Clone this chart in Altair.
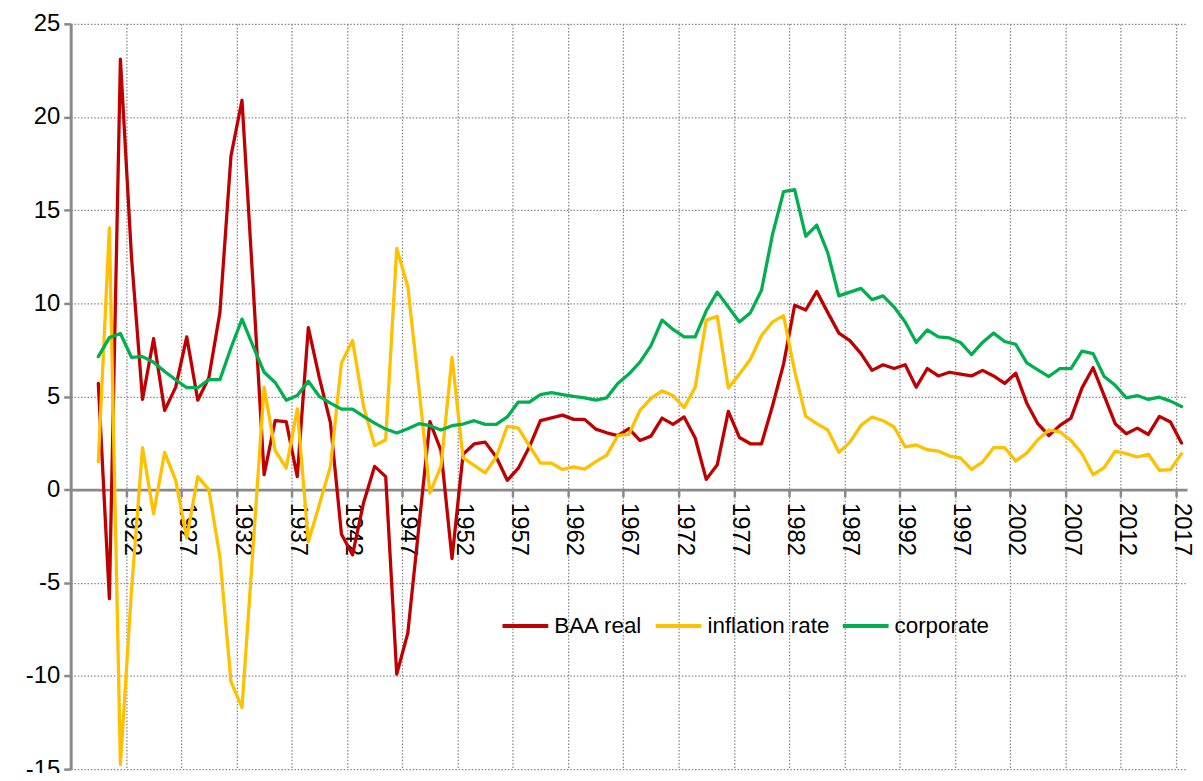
import altair as alt
import pandas as pd

years = list(range(1919, 2018))

baa_real = [5.7, -5.85, 23.1, 12.5, 4.85, 8.1, 4.25, 5.5, 8.2, 4.8,
            6.0, 9.5, 17.9, 20.9, 11.0, 0.8, 3.7, 3.65, 0.7, 8.7,
            6.0, 3.6, -2.4, -3.5, -0.7, 1.25, 0.7, -9.9, -7.7, -2.0,
            3.65, 2.1, -3.7, 1.9, 2.45, 2.55, 1.75, 0.5, 1.15, 2.3,
            3.7, 3.85, 4.0, 3.77, 3.77, 3.25, 3.05, 2.9, 3.27, 2.64,
            2.87, 3.84, 3.5, 3.9, 2.77, 0.55, 1.34, 4.2, 2.8, 2.46,
            2.46, 4.5, 6.75, 9.9, 9.64, 10.64, 9.5, 8.4, 8.0, 7.3,
            6.4, 6.7, 6.5, 6.7, 5.5, 6.5, 6.1, 6.3, 6.2, 6.1,
            6.4, 6.1, 5.7, 6.25, 4.64, 3.54, 2.9, 3.45, 3.84, 5.46,
            6.54, 5.05, 3.54, 3.0, 3.3, 2.96, 3.93, 3.63, 2.5]

inflation_rate = [1.5, 14.05, -14.75, -5.4, 2.25, -1.3, 2.0, 0.5, -2.6, 0.7,
                  0.0, -3.6, -10.3, -11.7, -3.1, 5.5, 2.1, 1.16, 4.33, -2.8,
                  -0.8, 1.25, 6.8, 8.0, 4.46, 2.36, 2.68, 12.95, 10.9, 5.5,
                  -0.18, 1.25, 7.1, 1.7, 1.3, 0.9, 1.75, 3.4, 3.3, 2.35,
                  1.42, 1.42, 1.08, 1.22, 1.1, 1.5, 1.85, 2.9, 2.96, 4.25,
                  4.9, 5.3, 5.05, 4.4, 5.5, 9.1, 9.3, 5.45, 6.2, 7.0,
                  8.27, 9.0, 9.34, 6.36, 3.93, 3.54, 3.2, 2.0, 2.55, 3.45,
                  3.9, 3.7, 3.36, 2.29, 2.4, 2.14, 2.07, 1.8, 1.7, 1.09,
                  1.48, 2.25, 2.25, 1.54, 1.96, 2.68, 3.2, 3.1, 2.64, 1.93,
                  0.8, 1.18, 2.07, 1.93, 1.75, 1.9, 1.04, 1.07, 1.93]

corporate = [7.14, 8.16, 8.38, 7.1, 7.14, 6.84, 6.34, 5.9, 5.47, 5.47,
             5.9, 5.9, 7.6, 9.15, 7.7, 6.3, 5.75, 4.8, 5.05, 5.82,
             5.0, 4.64, 4.32, 4.32, 3.93, 3.57, 3.25, 3.04, 3.27, 3.54,
             3.43, 3.2, 3.43, 3.52, 3.7, 3.5, 3.5, 3.9, 4.7, 4.7,
             5.1, 5.2, 5.1, 5.0, 4.93, 4.8, 4.93, 5.7, 6.2, 6.84,
             7.73, 9.1, 8.6, 8.2, 8.2, 9.6, 10.6, 9.8, 9.0, 9.5,
             10.7, 13.7, 16.0, 16.1, 13.6, 14.2, 12.7, 10.4, 10.6, 10.8,
             10.2, 10.4, 9.8, 9.0, 7.9, 8.57, 8.2, 8.14, 7.9, 7.25,
             7.9, 8.4, 7.95, 7.8, 6.8, 6.43, 6.07, 6.5, 6.5, 7.43,
             7.3, 6.07, 5.6, 4.93, 5.05, 4.84, 4.96, 4.75, 4.46]

series_names = ["BAA real", "inflation rate", "corporate"]
series_colors = ["#C00000", "#FFC000", "#00B050"]
x_tick_labels = [1922, 1927, 1932, 1937, 1942, 1947, 1952, 1957, 1962, 1967,
                 1972, 1977, 1982, 1987, 1992, 1997, 2002, 2007, 2012, 2017]
y_ticks = [-15, -10, -5, 0, 5, 10, 15, 20, 25]

rows = []
for name, vals in zip(series_names, [baa_real, inflation_rate, corporate]):
    assert len(vals) == len(years)
    for yr, v in zip(years, vals):
        rows.append({"year": yr, "value": v, "series": name})
df = pd.DataFrame(rows)

W, H = 1122, 749
YMIN, YMAX = -15, 25
XMIN, XMAX = 1916.5, 2017.5
half = W / (XMAX - XMIN) / 2
zero_offset = -(H - (YMAX - 0) / (YMAX - YMIN) * H)

FONT = "Liberation Sans"
GRAY = "#898989"

chart = alt.Chart(df).mark_line(strokeWidth=3.3, strokeJoin="round", strokeCap="round").encode(
    x=alt.X("year:Q",
            scale=alt.Scale(domain=[XMIN, XMAX], nice=False, zero=False),
            axis=alt.Axis(values=x_tick_labels, format="d", title=None,
                          tickOffset=-half, labelOffset=half,
                          labelAngle=90, labelAlign="left", labelBaseline="middle",
                          labelFont=FONT, labelFontSize=24, labelColor="black",
                          labelPadding=6, labelFlush=False, labelOverlap=False,
                          tickSize=7, tickWidth=2.5, tickColor=GRAY,
                          domainColor=GRAY, domainWidth=3,
                          offset=zero_offset,
                          grid=True, gridColor=GRAY, gridDash=[1.5, 1.8], gridWidth=1.3)),
    y=alt.Y("value:Q",
            scale=alt.Scale(domain=[YMIN, YMAX], nice=False, zero=False),
            axis=alt.Axis(values=y_ticks, labelExpr="'' + datum.value", title=None,
                          labelFont=FONT, labelFontSize=24, labelColor="black",
                          labelPadding=4,
                          tickSize=7, tickWidth=2.5, tickColor=GRAY,
                          domainColor=GRAY, domainWidth=3,
                          grid=True, gridColor=GRAY, gridDash=[1.5, 1.8], gridWidth=1.3)),
    color=alt.Color("series:N",
                    scale=alt.Scale(domain=series_names, range=series_colors),
                    sort=series_names,
                    legend=alt.Legend(orient="none", legendX=432, legendY=580,
                                      direction="horizontal", title=None,
                                      symbolType="stroke", symbolStrokeWidth=4,
                                      symbolSize=2116, labelFont=FONT,
                                      labelFontSize=22.5, labelColor="black",
                                      labelOffset=4, columnPadding=5,
                                      labelLimit=400)),
).properties(
    width=W, height=H,
    autosize=alt.AutoSizeParams(type="none"),
    padding={"left": 63, "top": 14, "right": 8, "bottom": 2},
    background="white",
).configure_view(stroke=None)

chart.save("out.html", embed_options={"renderer": "svg", "actions": False})
